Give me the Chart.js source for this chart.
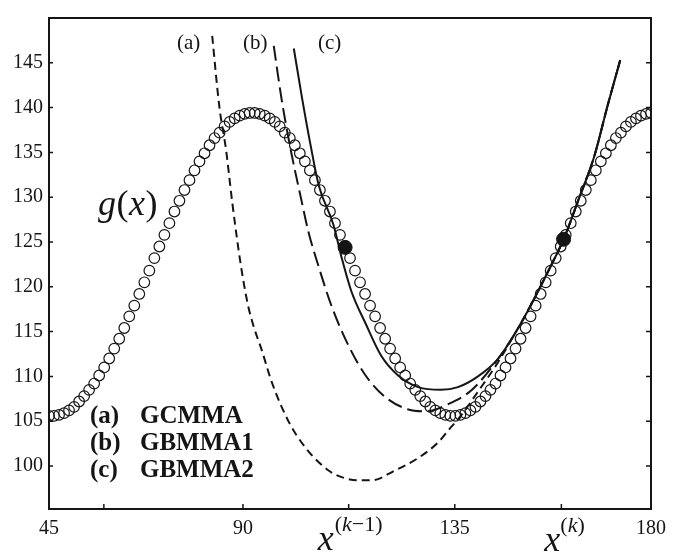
<!DOCTYPE html>
<html>
<head>
<meta charset="utf-8">
<script src="https://cdn.jsdelivr.net/npm/chart.js@4/dist/chart.umd.min.js"></script>
<style>
html,body{margin:0;padding:0;background:#fff;}
#c{display:block;}
</style>
</head>
<body>
<canvas id="c" width="674" height="555"></canvas>
<script>
// ---- data ----
const gX = [45.00,46.13,47.25,48.38,49.50,50.63,51.75,52.88,54.00,55.13,56.25,57.38,58.50,59.63,60.75,61.88,63.00,64.13,65.25,66.38,67.50,68.63,69.75,70.88,72.00,73.13,74.25,75.38,76.50,77.63,78.75,79.88,81.00,82.13,83.25,84.38,85.50,86.63,87.75,88.88,90.00,91.13,92.25,93.38,94.50,95.63,96.75,97.88,99.00,100.13,101.25,102.38,103.50,104.63,105.75,106.88,108.00,109.13,110.25,111.38,112.50,113.63,114.75,115.88,117.00,118.13,119.25,120.38,121.50,122.63,123.75,124.88,126.00,127.13,128.25,129.38,130.50,131.63,132.75,133.88,135.00,136.13,137.25,138.38,139.50,140.63,141.75,142.88,144.00,145.13,146.25,147.38,148.50,149.63,150.75,151.88,153.00,154.13,155.25,156.38,157.50,158.63,159.75,160.88,162.00,163.13,164.25,165.38,166.50,167.63,168.75,169.88,171.00,172.13,173.25,174.38,175.50,176.63,177.75,178.88,180.00];
const gY = [105.6,105.6,105.7,105.9,106.2,106.6,107.2,107.8,108.5,109.2,110.1,111.0,112.0,113.1,114.2,115.4,116.7,117.9,119.2,120.5,121.8,123.2,124.5,125.8,127.1,128.4,129.6,130.8,131.9,133.0,134.0,134.9,135.8,136.6,137.2,137.9,138.4,138.8,139.1,139.3,139.4,
139.4,139.3,139.1,138.8,138.4,137.9,137.2,136.6,135.8,134.9,134.0,133.0,131.9,130.8,129.6,128.4,127.1,125.8,124.5,123.2,121.8,120.5,119.2,117.9,116.7,115.4,114.2,113.1,112.0,111.0,110.1,109.2,108.5,107.8,107.2,106.6,106.2,105.9,105.7,105.6,
105.6,105.7,105.9,106.2,106.6,107.2,107.8,108.5,109.2,110.1,111.0,112.0,113.1,114.2,115.4,116.7,117.9,119.2,120.5,121.8,123.2,124.5,125.8,127.1,128.4,129.6,130.8,131.9,133.0,134.0,134.9,135.8,136.6,137.2,137.9,138.4,138.8,139.1,139.3,139.4];

const aX = [81.6,83.2,84.7,86.1,87.9,89.6,91.0,92.6,95.0,98.8,102.6,107.7,111.0,114.4,117.3,122.6,127.8,132.2,135.1,137.2,141.2,145.6,149.4,153.0,157.5,160.4,163.5,167.3,170.2,173.1];
const aY = [148.0,140.1,135.3,129.4,122.8,118.0,115.4,113.1,109.3,104.9,102.0,99.5,98.7,98.4,98.4,99.5,100.9,102.6,104.3,105.5,108.3,111.5,114.7,117.9,122.3,125.3,129.4,134.6,140.1,145.3];

const bX = [95.4,97.2,99.2,101.5,103.2,105.5,108.4,112.2,116.0,120.4,125.6,129.3,134.5,139.6,144.1,149.4,153.0,157.5,160.4,163.5,167.3,170.2,173.1];
const bY = [146.9,140.8,135.3,129.9,126.1,122.2,117.8,113.4,110.1,107.7,106.3,106.1,106.9,108.4,110.9,114.7,117.9,122.3,125.3,129.4,134.6,140.1,145.3];

const cX = [99.9,101.7,103.7,105.5,108.8,110.6,112.8,116.0,119.5,123.3,127.8,132.9,136.7,141.2,145.6,149.4,153.0,157.5,160.4,163.5,167.3,170.2,173.1];
const cY = [146.6,141.2,135.7,131.3,126.9,123.3,119.5,115.9,112.3,110.1,108.8,108.5,108.8,110.0,111.9,114.7,117.9,122.3,125.3,129.4,134.6,140.1,145.3];

const dotX = [111.4,160.4];
const dotY = [124.4,125.3];

const xTickPos = [45,57.3,88.5,112.2,136.0,159.9,180];
const xTickLabels = ['45','','90','','135','','180'];
const yTickVals = [100,105,110,115,120,125,130,135,140,145];
const yTickLabels = ['100','105','110','115','120','125','130','135','140','145'];
const curveLabels = ['(a)','(b)','(c)'];
const methodNames = ['GCMMA','GBMMA1','GBMMA2'];
const xk1Pos = 112.2, xkPos = 159.9;

const pts = (xs, ys) => xs.map((x, i) => ({x, y: ys[i]}));
const INK = '#151515';
const SERIF = '"Liberation Serif","Times New Roman",serif';

const framePlugin = {
  id: 'frame',
  afterDraw(chart) {
    const {ctx, chartArea: ca, scales} = chart;
    const xs = scales.x, ys = scales.y;
    ctx.save();
    ctx.strokeStyle = INK;
    ctx.lineWidth = 2;
    ctx.strokeRect(ca.left, ca.top, ca.right - ca.left, ca.bottom - ca.top);
    ctx.lineWidth = 1.5;
    ctx.beginPath();
    yTickVals.forEach(v => {
      const py = ys.getPixelForValue(v);
      ctx.moveTo(ca.left, py); ctx.lineTo(ca.left + 4, py);
      ctx.moveTo(ca.right, py); ctx.lineTo(ca.right - 5, py);
    });
    xTickPos.slice(1, -1).forEach(v => {
      const px = xs.getPixelForValue(v);
      ctx.moveTo(px, ca.bottom); ctx.lineTo(px, ca.bottom - 5);
    });
    ctx.stroke();

    ctx.fillStyle = INK;
    ctx.textBaseline = 'alphabetic';
    ctx.textAlign = 'left';
    // curve labels
    ctx.font = '21px ' + SERIF;
    ctx.fillText(curveLabels[0], 177, 49);
    ctx.fillText(curveLabels[1], 243, 49);
    ctx.fillText(curveLabels[2], 318, 49);
    // g(x)
    let gx = 98;
    const parts = [['g', 'italic 36px '], ['(', '36px '], ['x', 'italic 36px '], [')', '36px ']];
    parts.forEach(([t, f]) => {
      ctx.font = f + SERIF;
      ctx.fillText(t, gx, 215);
      gx += ctx.measureText(t).width + 0.5;
    });
    // legend
    ctx.font = 'bold 25px ' + SERIF;
    [423, 450, 477].forEach((by, i) => {
      ctx.fillText(curveLabels[i], 90, by);
      ctx.fillText(methodNames[i], 140, by);
    });
    // x^(k-1), x^(k)
    const p1 = xs.getPixelForValue(xk1Pos);
    ctx.font = 'italic 36px ' + SERIF;
    ctx.fillText('x', p1 - 31, 550);
    ctx.font = '22px ' + SERIF;
    let sx = p1 - 14;
    ctx.fillText('(', sx, 531); sx += ctx.measureText('(').width;
    ctx.font = 'italic 22px ' + SERIF;
    ctx.fillText('k', sx, 531); sx += ctx.measureText('k').width;
    ctx.font = '22px ' + SERIF;
    ctx.fillText('\u22121)', sx, 531);

    const p2 = xs.getPixelForValue(xkPos);
    ctx.font = 'italic 36px ' + SERIF;
    ctx.fillText('x', p2 - 17, 551);
    sx = p2 - 1;
    ctx.font = '22px ' + SERIF;
    ctx.fillText('(', sx, 532); sx += ctx.measureText('(').width;
    ctx.font = 'italic 22px ' + SERIF;
    ctx.fillText('k', sx, 532); sx += ctx.measureText('k').width;
    ctx.font = '22px ' + SERIF;
    ctx.fillText(')', sx, 532);
    ctx.restore();
  }
};

new Chart(document.getElementById('c'), {
  type: 'scatter',
  data: {
    datasets: [
      {label: 'g(x)', data: pts(gX, gY), showLine: false, pointStyle: 'circle', pointRadius: 5.3, pointBorderWidth: 1.2, pointBorderColor: INK, pointBackgroundColor: 'rgba(0,0,0,0)'},
      {label: 'GCMMA', data: pts(aX, aY), showLine: true, borderColor: INK, borderWidth: 2, borderDash: [8, 5], pointRadius: 0, cubicInterpolationMode: 'monotone'},
      {label: 'GBMMA1', data: pts(bX, bY), showLine: true, borderColor: INK, borderWidth: 2, borderDash: [15, 6], pointRadius: 0, cubicInterpolationMode: 'monotone'},
      {label: 'GBMMA2', data: pts(cX, cY), showLine: true, borderColor: INK, borderWidth: 2, pointRadius: 0, cubicInterpolationMode: 'monotone'},
      {label: 'iterates', data: pts(dotX, dotY), showLine: false, pointRadius: 7, pointBackgroundColor: INK, pointBorderColor: INK}
    ]
  },
  options: {
    responsive: false,
    animation: false,
    layout: {padding: {top: 10, right: 20, left: 0, bottom: 0}},
    plugins: {legend: {display: false}, tooltip: {enabled: false}},
    scales: {
      x: {
        type: 'linear', min: 45, max: 180,
        afterBuildTicks: s => { s.ticks = xTickPos.map(v => ({value: v})); },
        afterFit: s => { s.height = 46; },
        grid: {display: false, drawTicks: false},
        border: {display: false},
        ticks: {autoSkip: false, maxRotation: 0, padding: 8, color: INK, font: {family: SERIF, size: 20},
          callback: (v, i) => xTickLabels[i]}
      },
      y: {
        type: 'linear', min: 95.2, max: 150,
        afterBuildTicks: s => { s.ticks = yTickVals.map(v => ({value: v})); },
        afterFit: s => { s.width = 49; },
        grid: {display: false, drawTicks: false},
        border: {display: false},
        ticks: {padding: 6, color: INK, font: {family: SERIF, size: 20},
          callback: (v, i) => yTickLabels[i]}
      }
    }
  },
  plugins: [framePlugin]
});
</script>
</body>
</html>
